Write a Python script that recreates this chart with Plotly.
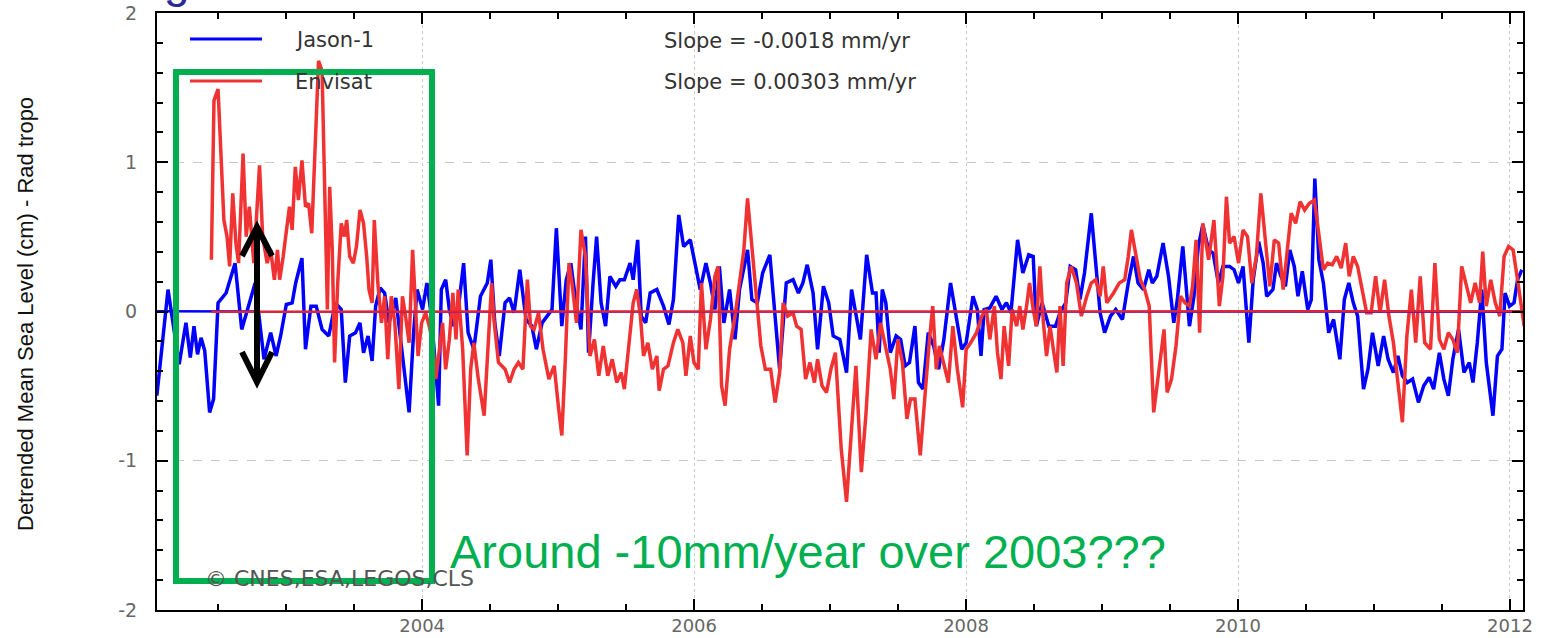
import plotly.graph_objects as go

# ---------------- data (decimal year, detrended MSL in cm) ----------------
jason_time = [
    2002.049, 2002.131, 2002.213, 2002.263, 2002.295, 2002.322, 2002.348, 2002.374, 2002.401, 2002.437,
    2002.466, 2002.499, 2002.558, 2002.624, 2002.673, 2002.716, 2002.772, 2002.837, 2002.886, 2002.926,
    2002.959, 2003.001, 2003.044, 2003.070, 2003.116, 2003.142, 2003.182, 2003.221, 2003.264, 2003.313,
    2003.362, 2003.405, 2003.435, 2003.467, 2003.510, 2003.543, 2003.569, 2003.602, 2003.632, 2003.658,
    2003.691, 2003.724, 2003.756, 2003.806, 2003.855, 2003.904, 2003.937, 2003.963, 2004.003, 2004.035,
    2004.068, 2004.121, 2004.141, 2004.173, 2004.200, 2004.232, 2004.265, 2004.305, 2004.338, 2004.380,
    2004.429, 2004.479, 2004.505, 2004.534, 2004.567, 2004.610, 2004.643, 2004.676, 2004.718, 2004.764,
    2004.807, 2004.840, 2004.882, 2004.922, 2004.955, 2004.987, 2005.027, 2005.060, 2005.093, 2005.135,
    2005.168, 2005.201, 2005.224, 2005.257, 2005.283, 2005.316, 2005.349, 2005.381, 2005.424, 2005.454,
    2005.487, 2005.529, 2005.552, 2005.585, 2005.611, 2005.644, 2005.677, 2005.726, 2005.775, 2005.815,
    2005.848, 2005.887, 2005.923, 2005.972, 2006.012, 2006.045, 2006.087, 2006.120, 2006.153, 2006.186,
    2006.219, 2006.261, 2006.301, 2006.334, 2006.393, 2006.425, 2006.465, 2006.504, 2006.557, 2006.596,
    2006.629, 2006.678, 2006.728, 2006.767, 2006.800, 2006.832, 2006.875, 2006.908, 2006.951, 2006.990,
    2007.023, 2007.072, 2007.121,
    2007.158, 2007.190, 2007.223, 2007.269, 2007.312, 2007.338, 2007.361, 2007.384, 2007.410, 2007.443,
    2007.486, 2007.519, 2007.552, 2007.584, 2007.624, 2007.650, 2007.683, 2007.722, 2007.762, 2007.798,
    2007.837, 2007.886, 2007.929, 2007.968, 2008.001, 2008.051, 2008.083, 2008.110, 2008.133, 2008.175,
    2008.221, 2008.264, 2008.297, 2008.330, 2008.379, 2008.418, 2008.461, 2008.494, 2008.517, 2008.559,
    2008.609, 2008.658, 2008.691, 2008.733, 2008.766, 2008.806, 2008.838, 2008.871, 2008.921, 2008.953,
    2008.986, 2009.019, 2009.062, 2009.101, 2009.150, 2009.193, 2009.232, 2009.265, 2009.305, 2009.344,
    2009.370, 2009.403, 2009.449, 2009.489, 2009.528, 2009.554, 2009.594, 2009.643, 2009.676, 2009.708,
    2009.741, 2009.784, 2009.817, 2009.856, 2009.889, 2009.938, 2009.971, 2010.004, 2010.037, 2010.080,
    2010.112, 2010.152, 2010.185, 2010.211, 2010.257, 2010.283, 2010.316, 2010.349, 2010.381, 2010.414,
    2010.441, 2010.473, 2010.513, 2010.539, 2010.565, 2010.595, 2010.628, 2010.667, 2010.703, 2010.749,
    2010.782, 2010.815, 2010.848, 2010.880, 2010.923, 2010.956, 2010.989, 2011.031, 2011.071, 2011.104,
    2011.143, 2011.176, 2011.209, 2011.245, 2011.284, 2011.327, 2011.366, 2011.406, 2011.439, 2011.481,
    2011.514, 2011.547, 2011.580, 2011.622, 2011.662, 2011.701, 2011.728, 2011.760, 2011.793, 2011.826,
    2011.875, 2011.908, 2011.941, 2011.964, 2011.997, 2012.030, 2012.056, 2012.088,
]
jason_cm = [
    -0.564, 0.147, -0.353, -0.076, -0.309, -0.098, -0.287, -0.176, -0.264, -0.676,
    -0.587, 0.058, 0.124, 0.324, -0.12, 0.013, 0.191, -0.32, -0.142, -0.298,
    -0.164, 0.047, 0.058, 0.191, 0.358, -0.253, 0.036, 0.036, -0.12, -0.164,
    0.058, 0.013, -0.476, -0.164, -0.142, -0.076, -0.276, -0.164, -0.331, 0.036,
    0.158, 0.124, -0.076, 0.091, -0.298, -0.676, -0.142, 0.147, 0.013, 0.191,
    -0.031, -0.631, 0.147, 0.213, 0.013, -0.098, 0.013, 0.324, -0.142, -0.253,
    0.102, 0.191, 0.347, -0.076, -0.298, 0.058, 0.091, -0.009, 0.28, -0.053,
    -0.098, -0.253, -0.076, -0.031, 0.013, 0.558, -0.098, 0.213, 0.324, 0.036,
    -0.12, 0.502, -0.276, 0.191, 0.502, 0.058, -0.098, 0.236, 0.169, 0.213,
    0.213, 0.324, 0.213, 0.48, -0.031, -0.076, 0.124, 0.147, 0.036, -0.087,
    0.08, 0.647, 0.436, 0.48, 0.302, 0.147, 0.324, 0.191, 0.013, 0.302,
    -0.076, 0.147, -0.187, 0.147, 0.413, 0.08, 0.058, 0.258, 0.38, -0.031,
    -0.387, 0.191, 0.213, 0.124, 0.191, 0.313, 0.124, -0.253, 0.169, 0.058,
    -0.164, -0.187, -0.409,
    0.147, -0.031, -0.187, 0.38, 0.124, 0.124, -0.276, 0.147, 0.058, -0.276,
    -0.164, -0.187, -0.364, -0.342, -0.098, -0.476, -0.52, -0.142, -0.231, -0.387,
    -0.187, 0.191, -0.031, -0.253, -0.209, 0.102, 0.013, -0.298, 0.013, 0.024,
    0.102, 0.013, 0.058, -0.009, 0.48, 0.258, 0.38, 0.369, -0.098, 0.058,
    -0.098, -0.098, -0.009, 0.058, 0.302, 0.28, 0.08, 0.258, 0.658, 0.302,
    -0.009, -0.142, -0.031, 0.013, -0.053, 0.191, 0.369, 0.191, 0.147, 0.28,
    0.191, 0.236, 0.458, 0.236, -0.076, 0.08, 0.436, -0.098, 0.102, 0.436,
    0.58, 0.413, 0.391, 0.191, 0.302, 0.302, 0.28, 0.191, 0.302, -0.209,
    0.213, 0.469, 0.324, 0.102, 0.147, 0.324, 0.236, 0.169, 0.413, 0.302,
    0.102, 0.269, 0.013, 0.08, 0.891, 0.347, 0.191, -0.142, -0.053, -0.32,
    0.08, 0.191, 0.058, -0.031, -0.52, -0.387, -0.142, -0.364, -0.164, -0.32,
    -0.409, -0.298, -0.431, -0.476, -0.453, -0.609, -0.498, -0.442, -0.52, -0.276,
    -0.453, -0.564, -0.32, -0.12, -0.409, -0.342, -0.476, -0.209, 0.147, -0.342,
    -0.698, -0.298, -0.253, 0.124, 0.036, 0.058, 0.213, 0.28,
]

envisat_time = [
    2002.450, 2002.469, 2002.499, 2002.519, 2002.542, 2002.565, 2002.584, 2002.607, 2002.630, 2002.650,
    2002.683, 2002.706, 2002.729, 2002.762, 2002.804, 2002.827, 2002.860, 2002.886, 2002.913, 2002.936,
    2002.952, 2002.978, 2003.001, 2003.024, 2003.044, 2003.067, 2003.090, 2003.116, 2003.142, 2003.165,
    2003.188, 2003.215, 2003.238, 2003.264, 2003.287, 2003.303, 2003.320, 2003.339, 2003.356, 2003.379,
    2003.405, 2003.428, 2003.445, 2003.467, 2003.494, 2003.517, 2003.543, 2003.569, 2003.592, 2003.609,
    2003.632, 2003.648, 2003.674, 2003.701, 2003.724, 2003.747, 2003.773, 2003.799, 2003.829, 2003.855,
    2003.878, 2003.904, 2003.930, 2003.953, 2003.970, 2003.996, 2004.026, 2004.052, 2004.078, 2004.101,
    2004.127, 2004.150, 2004.173, 2004.200, 2004.226, 2004.249, 2004.265, 2004.298, 2004.331, 2004.357,
    2004.380, 2004.413, 2004.456, 2004.489, 2004.511, 2004.528, 2004.561, 2004.610, 2004.643, 2004.676,
    2004.708, 2004.741, 2004.774, 2004.797, 2004.823, 2004.856, 2004.889, 2004.932, 2004.971, 2005.004,
    2005.027, 2005.053, 2005.080, 2005.102, 2005.135, 2005.168, 2005.201, 2005.234, 2005.267, 2005.299,
    2005.332, 2005.365, 2005.398, 2005.431, 2005.464, 2005.487, 2005.519, 2005.552, 2005.578, 2005.605,
    2005.628, 2005.660, 2005.693, 2005.726, 2005.743, 2005.775, 2005.808, 2005.848, 2005.880, 2005.917,
    2005.940, 2005.972, 2005.999, 2006.031, 2006.054, 2006.087, 2006.120, 2006.153, 2006.176, 2006.202,
    2006.228, 2006.261, 2006.301, 2006.334, 2006.366, 2006.393, 2006.425, 2006.458, 2006.491, 2006.524,
    2006.563, 2006.596, 2006.629, 2006.655, 2006.688, 2006.728, 2006.754, 2006.787, 2006.820, 2006.852,
    2006.885, 2006.908, 2006.941, 2006.974, 2007.006, 2007.039, 2007.082, 2007.121,
    2007.164, 2007.190, 2007.230, 2007.263, 2007.302, 2007.338, 2007.371, 2007.410, 2007.443, 2007.469,
    2007.499, 2007.532, 2007.565, 2007.591, 2007.624, 2007.663, 2007.696, 2007.729, 2007.755, 2007.781,
    2007.804, 2007.837, 2007.870, 2007.903, 2007.936, 2007.975, 2008.001, 2008.034, 2008.077, 2008.116,
    2008.149, 2008.175, 2008.208, 2008.231, 2008.257, 2008.280, 2008.313, 2008.339, 2008.372, 2008.395,
    2008.418, 2008.445, 2008.467, 2008.494, 2008.517, 2008.543, 2008.569, 2008.592, 2008.618, 2008.642,
    2008.668, 2008.691, 2008.714, 2008.740, 2008.773, 2008.812, 2008.848, 2008.888, 2008.921, 2008.953,
    2008.986, 2009.009, 2009.035, 2009.085, 2009.127, 2009.167, 2009.193, 2009.216, 2009.249, 2009.282,
    2009.314, 2009.347, 2009.380, 2009.413, 2009.456, 2009.479, 2009.511, 2009.544, 2009.577, 2009.610,
    2009.643, 2009.666, 2009.692, 2009.718, 2009.741, 2009.784, 2009.823, 2009.863, 2009.889, 2009.915,
    2009.938, 2009.971, 2010.004, 2010.037, 2010.070, 2010.102, 2010.135, 2010.168, 2010.201, 2010.234,
    2010.267, 2010.299, 2010.332, 2010.365, 2010.391, 2010.424, 2010.457, 2010.490, 2010.523, 2010.562,
    2010.595, 2010.628, 2010.660, 2010.693, 2010.726, 2010.759, 2010.792, 2010.818, 2010.848, 2010.880,
    2010.913, 2010.946, 2010.979, 2011.012, 2011.045, 2011.078, 2011.110, 2011.143, 2011.176, 2011.209,
    2011.242, 2011.275, 2011.307, 2011.340, 2011.373, 2011.416, 2011.448, 2011.481, 2011.514, 2011.547,
    2011.580, 2011.613, 2011.645, 2011.678, 2011.711, 2011.744, 2011.777, 2011.800, 2011.826, 2011.859,
    2011.892, 2011.925, 2011.957, 2011.990, 2012.023, 2012.056, 2012.105,
]
envisat_cm = [
    0.347, 1.413, 1.491, 1.08, 0.613, 0.502, 0.302, 0.791, 0.458, 0.324,
    1.058, 0.502, 0.702, 0.324, 0.98, 0.502, 0.324, 0.413, 0.213, 0.413,
    0.213, 0.369, 0.524, 0.702, 0.547, 0.969, 0.747, 1.013, 0.702, 0.724,
    0.524, 1.191, 1.68, 1.613, 0.569, 0.013, 0.836, 0.413, -0.342, 0.191,
    0.591, 0.502, 0.613, 0.369, 0.324, 0.436, 0.68, 0.591, 0.369, 0.147,
    0.058, 0.613, 0.191, -0.076, 0.102, -0.32, 0.102, -0.076, -0.52, 0.102,
    -0.031, -0.209, 0.413, 0.058, -0.298, -0.076, -0.009, -0.098, -0.209, -0.453,
    -0.253, -0.076, -0.387, -0.187, 0.124, -0.187, 0.147, -0.253, -0.964, -0.387,
    -0.209, -0.453, -0.698, -0.12, 0.191, -0.053, -0.342, -0.387, -0.476, -0.387,
    -0.342, -0.387, 0.213, -0.098, -0.12, -0.009, -0.253, -0.453, -0.364, -0.653,
    -0.831, -0.32, 0.324, 0.191, -0.076, 0.547, 0.369, -0.298, -0.187, -0.431,
    -0.231, -0.431, -0.32, -0.476, -0.409, -0.52, -0.253, 0.058, 0.147, -0.031,
    -0.298, -0.209, -0.387, -0.298, -0.531, -0.387, -0.364, -0.209, -0.12, -0.209,
    -0.431, -0.164, -0.342, -0.387, 0.191, -0.253, -0.053, 0.236, 0.302, -0.498,
    -0.631, -0.253, -0.031, 0.191, 0.413, 0.758, 0.413, 0.058, -0.231, -0.387,
    -0.387, -0.609, -0.409, 0.058, -0.031, -0.009, -0.098, -0.12, -0.453, -0.342,
    -0.476, -0.32, -0.498, -0.542, -0.387, -0.276, -0.92, -1.276,
    -0.698, -0.364, -1.076, -0.698, -0.12, -0.32, -0.076, -0.253, -0.387, -0.587,
    -0.187, -0.342, -0.72, -0.587, -0.587, -0.964, -0.564, -0.209, 0.036, -0.387,
    -0.231, -0.364, -0.476, -0.098, -0.387, -0.642, -0.253, -0.209, -0.142, -0.031,
    0.013, -0.187, 0.036, -0.276, -0.453, -0.098, -0.364, 0.013, -0.098, 0.036,
    -0.12, 0.036, 0.191, 0.013, -0.098, 0.302, -0.076, -0.298, -0.098, -0.253,
    -0.409, 0.036, -0.364, 0.191, 0.302, 0.191, -0.031, 0.102, 0.191, 0.213,
    0.102, 0.302, 0.058, 0.124, 0.191, 0.213, 0.369, 0.547, 0.369, 0.213,
    0.147, 0.036, -0.676, -0.453, -0.12, -0.542, -0.453, -0.231, 0.102, 0.058,
    0.036, 0.169, 0.48, -0.142, 0.591, 0.347, 0.613, 0.036, 0.236, 0.769,
    0.458, 0.502, 0.324, 0.547, 0.502, 0.191, 0.369, 0.791, 0.502, 0.169,
    0.48, 0.458, 0.147, 0.413, 0.658, 0.591, 0.736, 0.68, 0.724, 0.747,
    0.502, 0.28, 0.324, 0.313, 0.369, 0.291, 0.458, 0.236, 0.369, 0.302,
    0.147, -0.009, -0.009, 0.236, -0.009, 0.213, -0.031, -0.209, -0.476, -0.742,
    -0.164, 0.147, -0.209, 0.236, -0.209, -0.253, 0.324, -0.187, -0.253, -0.142,
    -0.187, -0.276, 0.302, 0.191, 0.058, 0.191, 0.058, 0.402, 0.036, 0.213,
    0.058, -0.031, 0.369, 0.436, 0.413, 0.213, -0.098,
]

series_names = ["Jason-1", "Envisat"]
slopes_mm_per_yr = [-0.0018, 0.00303]
x_tick_years = [2004, 2006, 2008, 2010, 2012]
y_tick_values = [-2, -1, 0, 1, 2]
x_range = [2002.05, 2012.096]
y_range = [-2, 2]

assert len(jason_time) == len(jason_cm)
assert len(envisat_time) == len(envisat_cm)

# ---------------- styling ----------------
BLUE = "rgb(0,0,255)"
RED = "rgb(240,50,50)"
TREND_RED = "rgb(218,38,58)"
GREEN = "#00b050"

W, H = 1543, 638
L, R, T, B = 157, 20, 13, 28
PW, PH = W - L - R, H - T - B


def px(x):
    return (x - L) / PW


def py(y):
    return (H - B - y) / PH


def trend(times, slope_mm):
    mean_t = sum(times) / len(times)
    t = [times[0], x_range[1]]
    return t, [slope_mm / 10.0 * (v - mean_t) for v in t]


fig = go.Figure()
fig.add_trace(go.Scatter(x=jason_time, y=jason_cm, mode="lines", name=series_names[0],
                         line=dict(color=BLUE, width=3.5)))
fig.add_trace(go.Scatter(x=envisat_time, y=envisat_cm, mode="lines", name=series_names[1],
                         line=dict(color=RED, width=3.5)))
jt, jv = trend(jason_time, slopes_mm_per_yr[0])
et, ev = trend(envisat_time, slopes_mm_per_yr[1])
fig.add_trace(go.Scatter(x=jt, y=jv, mode="lines", line=dict(color=BLUE, width=2.5), showlegend=False))
fig.add_trace(go.Scatter(x=et, y=ev, mode="lines", line=dict(color=TREND_RED, width=2.5), showlegend=False))

xtickfont = dict(family="DejaVu Sans", size=18, color="#666666")
ytickfont = dict(family="DejaVu Sans", size=19, color="#666666")
fig.update_xaxes(
    range=x_range, tickvals=x_tick_years, ticktext=[str(v) for v in x_tick_years],
    ticks="inside", ticklen=11, tickwidth=2, tickcolor="black",
    showline=True, linecolor="black", linewidth=2, mirror="ticks",
    showgrid=True, gridcolor="#c8c8c8", gridwidth=1, griddash="dot",
    zeroline=False, tickfont=xtickfont, ticklabelstandoff=-2, automargin=False,
    minor=dict(ticks="inside", ticklen=6, tickwidth=2, tickcolor="black",
               tick0=2002, dtick=0.5, showgrid=False),
)
fig.update_yaxes(
    range=y_range, tickvals=y_tick_values, ticktext=[str(v) for v in y_tick_values],
    ticks="inside", ticklen=11, tickwidth=2, tickcolor="black",
    showline=True, linecolor="black", linewidth=2, mirror="ticks",
    showgrid=True, gridcolor="#c8c8c8", gridwidth=1, griddash="dash",
    zeroline=False, tickfont=ytickfont, ticklabelstandoff=14, automargin=False,
    minor=dict(ticks="inside", ticklen=6, tickwidth=2, tickcolor="black",
               tick0=0, dtick=0.2, showgrid=False),
)

shapes = []
annotations = []

# custom in-plot legend
for name, color, ypix in [(series_names[0], BLUE, 39), (series_names[1], RED, 81)]:
    shapes.append(dict(type="line", xref="paper", yref="paper", x0=px(190), x1=px(262),
                       y0=py(ypix), y1=py(ypix), line=dict(color=color, width=3)))
    annotations.append(dict(text=name, xref="paper", yref="paper", x=px(293), y=py(ypix + 1),
                            xanchor="left", yanchor="middle", showarrow=False,
                            font=dict(family="DejaVu Sans", size=21, color="#333333")))

# slope texts
for s, ypix in zip(slopes_mm_per_yr, [40, 81]):
    annotations.append(dict(text=f"Slope = {s} mm/yr", xref="paper", yref="paper",
                            x=px(662), y=py(ypix + 1), xanchor="left", yanchor="middle",
                            showarrow=False,
                            font=dict(family="DejaVu Sans", size=21, color="#333333")))

# copyright
annotations.append(dict(text="© CNES,ESA,LEGOS,CLS", xref="paper", yref="paper",
                        x=px(203), y=py(578), xanchor="left", yanchor="middle", showarrow=False,
                        font=dict(family="DejaVu Sans", size=22, color="#555555")))

# y-axis title
annotations.append(dict(text="Detrended Mean Sea Level (cm) - Rad tropo", xref="paper", yref="paper",
                        x=px(25), y=py(314), xanchor="center", yanchor="middle", showarrow=False,
                        textangle=-90,
                        font=dict(family="Liberation Sans Narrow, Liberation Sans", size=22,
                                  color="#111111")))

# green annotation box + text
shapes.append(dict(type="rect", xref="paper", yref="paper", x0=px(176), x1=px(432),
                   y0=py(581), y1=py(72), line=dict(color=GREEN, width=6), layer="above"))
annotations.append(dict(text="Around -10mm/year over 2003???", xref="paper", yref="paper",
                        x=px(448), y=py(551), xanchor="left", yanchor="middle", showarrow=False,
                        font=dict(family="Liberation Sans", size=47, color=GREEN)))

# black double arrow
shapes.append(dict(type="line", xref="paper", yref="paper", x0=px(257), x1=px(257),
                   y0=py(230), y1=py(379), line=dict(color="black", width=6), layer="above"))
for tip, arm in [(227, 256), (382, 352)]:
    path = (f"M {px(242)},{py(arm)} L {px(257)},{py(tip)} L {px(272)},{py(arm)}")
    shapes.append(dict(type="path", xref="paper", yref="paper", path=path,
                       line=dict(color="black", width=6), layer="above"))

# fragment of slide title cut off at the top (as in the source slide)
annotations.append(dict(text="g", xref="paper", yref="paper", x=px(177), y=py(9),
                        xanchor="center", yanchor="bottom", showarrow=False,
                        font=dict(family="Liberation Sans", size=46, color="#2a2a96")))

fig.update_layout(
    width=W, height=H, margin=dict(l=L, r=R, t=T, b=B),
    plot_bgcolor="white", paper_bgcolor="white", showlegend=False,
    shapes=shapes, annotations=annotations,
)

fig.write_html("out.html", config={"displayModeBar": False},
               post_script="document.body.style.margin='0';")
